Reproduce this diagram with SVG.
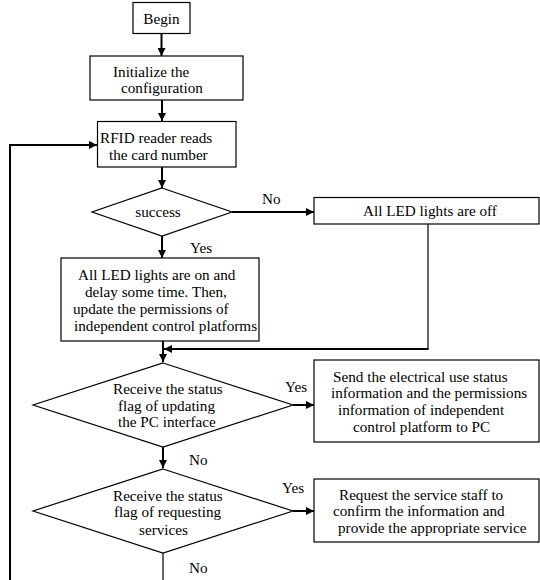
<svg xmlns="http://www.w3.org/2000/svg" width="540" height="580" viewBox="0 0 540 580">
<style>
.box{fill:#fff;stroke:#000;stroke-width:1.2}
.t{font-family:"Liberation Serif","Times New Roman",serif;font-size:15.2px;fill:#000}
.c{text-anchor:middle}
.ln{fill:none;stroke:#000;stroke-width:2}
.thin{fill:none;stroke:#000;stroke-width:1.2}
</style>
<defs>
<marker id="ah" markerWidth="9" markerHeight="8" refX="8" refY="4" orient="auto" markerUnits="userSpaceOnUse">
<path d="M0,0 L8,4 L0,8 Z" fill="#000"/>
</marker>
</defs>
<rect width="540" height="580" fill="#fff"/>
<g id="connectors">
<path class="ln" d="M161.5 33 V56" marker-end="url(#ah)"/>
<path class="ln" d="M162 100 V121" marker-end="url(#ah)"/>
<path class="ln" d="M162 167 V188" marker-end="url(#ah)"/>
<path class="ln" d="M232 212 H314" marker-end="url(#ah)"/>
<path class="ln" d="M162 236 V258" marker-end="url(#ah)"/>
<path class="ln" d="M163 341 V362" marker-end="url(#ah)"/>
<path class="thin" d="M428 224 V349"/>
<path class="ln" d="M428.5 349 H164" marker-end="url(#ah)"/>
<path class="ln" d="M293 405 H314" marker-end="url(#ah)"/>
<path class="ln" d="M163 447 V468" marker-end="url(#ah)"/>
<path class="ln" d="M293 511 H314" marker-end="url(#ah)"/>
<path class="thin" d="M163 553 V580"/>
<path class="ln" d="M10 580 V145 H97" marker-end="url(#ah)"/>
<text class="t" x="262" y="204">No</text>
<text class="t" x="190" y="253">Yes</text>
<text class="t" x="285" y="392">Yes</text>
<text class="t" x="189" y="465">No</text>
<text class="t" x="282" y="493">Yes</text>
<text class="t" x="189" y="573">No</text>
</g>
<g id="begin">
<rect class="box" x="133" y="2.5" width="57" height="31"/>
<text class="t c" x="161.5" y="24">Begin</text>
</g>
<g id="init">
<rect class="box" x="90" y="56" width="153" height="44"/>
<text class="t" x="113" y="77">Initialize  the</text>
<text class="t" x="121" y="93">configuration</text>
</g>
<g id="rfid">
<rect class="box" x="97.5" y="121.5" width="138.5" height="45.5"/>
<text class="t" x="100" y="143">RFID reader  reads</text>
<text class="t" x="109" y="160">the card number</text>
</g>
<g id="success">
<polygon class="box" points="162,188 232,212 162,236 92,212"/>
<text class="t c" x="158" y="217">success</text>
</g>
<g id="ledoff">
<rect class="box" x="314" y="197.5" width="225" height="26.5"/>
<text class="t c" x="430" y="216">All LED lights are off</text>
</g>
<g id="ledon">
<rect class="box" x="61" y="258" width="198" height="83"/>
<text class="t" x="78" y="280">All LED lights are on and</text>
<text class="t" x="85" y="297">delay some time. Then,</text>
<text class="t" x="73" y="314">update the permissions of</text>
<text class="t" x="74" y="331">independent control platforms</text>
</g>
<g id="pcflag">
<polygon class="box" points="163,363 293,405 163,447 33,405"/>
<text class="t" x="113" y="394">Receive the status</text>
<text class="t" x="118" y="410.5">flag of updating</text>
<text class="t" x="118" y="427">the PC interface</text>
</g>
<g id="sendpc">
<rect class="box" x="314" y="360" width="225" height="82"/>
<text class="t" x="333" y="382">Send the electrical use status</text>
<text class="t" x="331" y="398">information and the permissions</text>
<text class="t" x="338" y="415">information of independent</text>
<text class="t" x="353" y="432">control platform to PC</text>
</g>
<g id="svcflag">
<polygon class="box" points="163,469 293,511 163,553 33,511"/>
<text class="t" x="113" y="501">Receive the status</text>
<text class="t" x="114" y="517">flag of requesting</text>
<text class="t" x="139" y="535">services</text>
</g>
<g id="request">
<rect class="box" x="314" y="479" width="225" height="63"/>
<text class="t" x="339" y="500">Request the service staff to</text>
<text class="t" x="333" y="516">confirm the information and</text>
<text class="t" x="338" y="533">provide the appropriate service</text>
</g>
</svg>
